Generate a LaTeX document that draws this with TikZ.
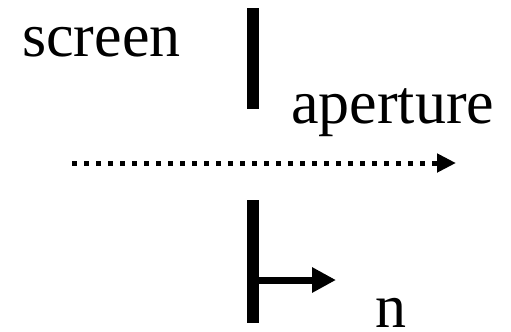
\documentclass[tikz,border=0pt]{standalone}
\usepackage{fontspec}
\setmainfont{Liberation Serif}
\usetikzlibrary{arrows.meta}
\begin{document}
\begin{tikzpicture}[x=1bp,y=-1bp,
  lbl/.style={inner sep=0pt,anchor=base west,font=\fontsize{62bp}{70bp}\selectfont},
  bar/.style={line width=12bp},
  ray/.style={line width=5bp,dash pattern=on 4.5bp off 7.5bp,-{Triangle[length=19bp,width=18bp]}},
  normal/.style={line width=7bp,-{Triangle[length=24bp,width=24bp]}}]
\useasboundingbox (0,0) rectangle (511,331);
% screen halves
\coordinate (ut) at (253,8);
\coordinate (ub) at (253,109);
\coordinate (lt) at (253,200);
\coordinate (lb) at (253,323);
\draw[bar] (ut) -- (ub);
\draw[bar] (lt) -- (lb);
% normal
\coordinate (ns) at (259,280);
\coordinate (ne) at (336,280);
\draw[normal] (ns) -- (ne);
% ray
\coordinate (rs) at (72,163);
\coordinate (re) at (456,163);
\draw[ray] (rs) -- (re);
% labels
\node[lbl] (screen) at (22,56) {screen};
\node[lbl] (aperture) at (291,123) {aperture};
\node[lbl] (n) at (375,327) {n};
\end{tikzpicture}
\end{document}
